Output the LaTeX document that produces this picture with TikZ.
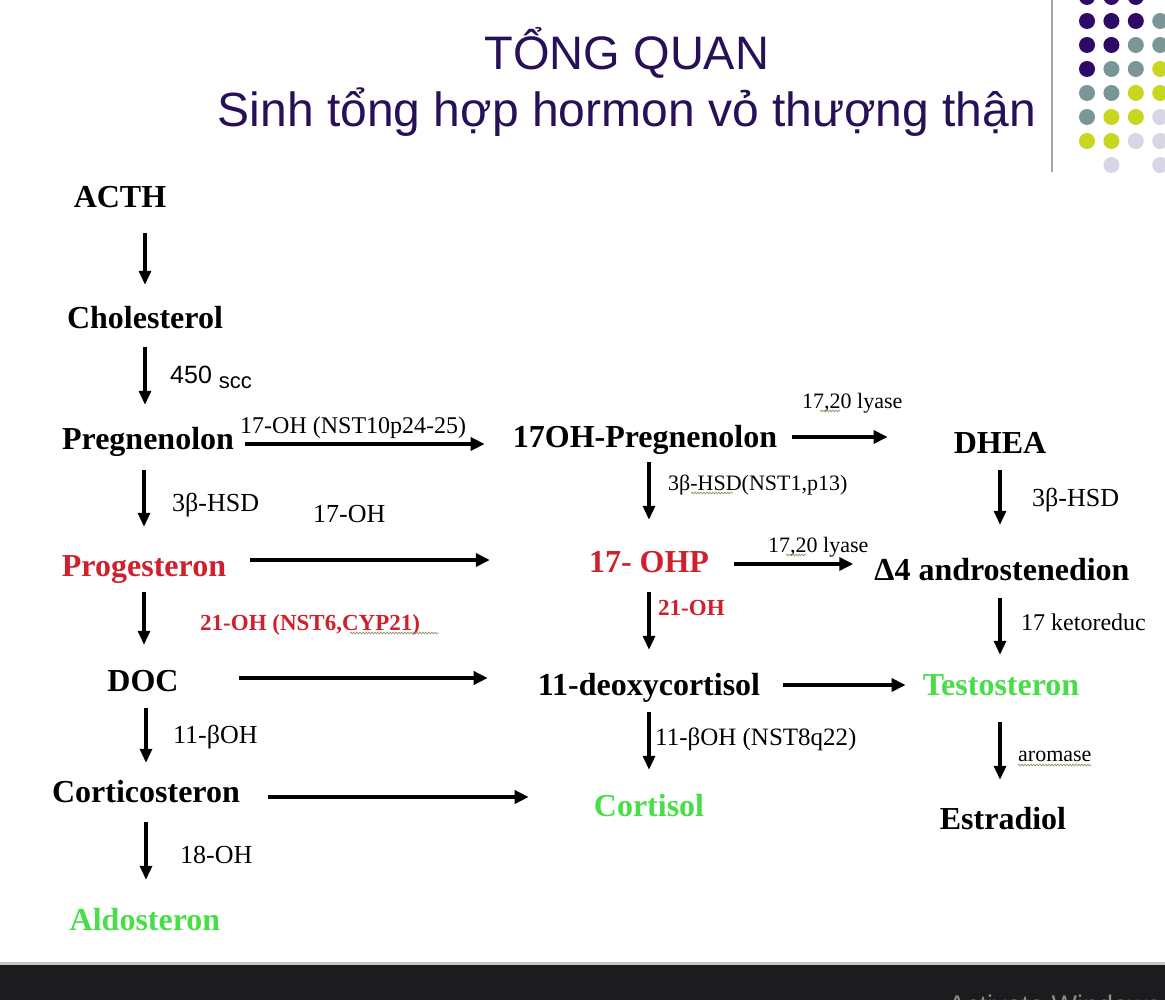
\documentclass[tikz,border=0pt]{standalone}
\usepackage{fontspec}
\setmainfont{Liberation Serif}
\newfontfamily\sansfont{Liberation Sans}
\usetikzlibrary{arrows.meta,decorations.pathmorphing}

\definecolor{titlepurple}{RGB}{40,16,88}
\definecolor{pathred}{RGB}{208,32,46}
\definecolor{pathgreen}{RGB}{72,222,72}
\definecolor{dotpurple}{RGB}{44,10,102}
\definecolor{dotgray}{RGB}{122,150,150}
\definecolor{dotyellow}{RGB}{200,214,32}
\definecolor{dotlilac}{RGB}{214,214,230}
\definecolor{squiggle}{RGB}{150,150,105}
\definecolor{barblack}{RGB}{28,28,30}

\begin{document}
\begin{tikzpicture}[x=1pt,y=-1pt,
  nd/.style={font=\fontsize{32}{36}\selectfont\bfseries, inner sep=0pt,
             anchor=base, text height=23pt, text depth=7pt},
  red/.style={text=pathred},
  grn/.style={text=pathgreen},
  lbl/.style={font=\fontsize{26}{30}\selectfont, inner sep=0pt, anchor=base west},
  lblsm/.style={font=\fontsize{22}{26}\selectfont, inner sep=0pt, anchor=base west},
  lblred/.style={font=\fontsize{23}{27}\selectfont\bfseries, text=pathred, inner sep=0pt, anchor=base west},
  arr/.style={line width=3.2pt, -{Triangle[length=14pt,width=12pt]}},
  harr/.style={arr, line width=3.8pt, -{Triangle[length=14pt,width=13pt]}},
  wavy/.style={squiggle, line width=0.7pt, decorate,
               decoration={snake, segment length=3pt, amplitude=0.9pt}},
  dot/.style={circle, inner sep=0pt, minimum size=16pt},
]
\useasboundingbox (0,0) rectangle (1165,1000);
\fill[white] (0,0) rectangle (1165,1000);

% ---- heading ----
\node[font=\sansfont\fontsize{47}{52}\selectfont, text=titlepurple, anchor=base]
  (title) at (627,70) {TỔNG QUAN};
\node[font=\sansfont\fontsize{48}{54}\selectfont, text=titlepurple, anchor=base]
  (subtitle) at (627,127) {Sinh tổng hợp hormon vỏ thượng thận};

% ---- corner ornament: rule and dot grid (row/column/colour) ----
\draw[gray!70, line width=2.4pt] (1052,0) -- (1052,172);
\foreach \r/\c/\col in {
  0/1/dotpurple, 0/2/dotpurple, 0/3/dotpurple,
  1/1/dotpurple, 1/2/dotpurple, 1/3/dotpurple, 1/4/dotgray,
  2/1/dotpurple, 2/2/dotpurple, 2/3/dotgray,   2/4/dotgray,
  3/1/dotpurple, 3/2/dotgray,   3/3/dotgray,   3/4/dotyellow,
  4/1/dotgray,   4/2/dotgray,   4/3/dotyellow, 4/4/dotyellow,
  5/1/dotgray,   5/2/dotyellow, 5/3/dotyellow, 5/4/dotlilac,
  6/1/dotyellow, 6/2/dotyellow, 6/3/dotlilac,  6/4/dotlilac,
  7/2/dotlilac,  7/4/dotlilac}{
  \node[dot, fill=\col] (dot-\r-\c) at ({1087+24.4*(\c-1)},{-3+24*\r}) {};
}

% ---- compounds ----
\node[nd] (acth)     at (120,208)  {ACTH};
\node[nd] (chol)     at (145,329)  {Cholesterol};
\node[nd] (preg)     at (148,449)  {Pregnenolon};
\node[nd] (ohpreg)   at (645,447)  {17OH-Pregnenolon};
\node[nd] (dhea)     at (1000,453) {DHEA};
\node[nd, red] (prog) at (144,576) {Progesteron};
\node[nd, red] (ohp)  at (649,572) {17- OHP};
\node[nd] (andro)    at (1002,580) {Δ4 androstenedion};
\node[nd] (doc)      at (143,691)  {DOC};
\node[nd] (deoxy)    at (649,695)  {11-deoxycortisol};
\node[nd, grn] (testo) at (1001,695) {Testosteron};
\node[nd] (cortico)  at (146,802)  {Corticosteron};
\node[nd, grn] (cortisol) at (649,816) {Cortisol};
\node[nd] (estra)    at (1003,829) {Estradiol};
\node[nd, grn] (aldo) at (145,930) {Aldosteron};

% ---- enzymes ----
\node[font=\sansfont\fontsize{25}{30}\selectfont, inner sep=0pt, anchor=base west]
  (scc) at (170,384) {450 \raisebox{-5pt}{\fontsize{22}{26}\selectfont scc}};
\node[font=\fontsize{24}{28}\selectfont, inner sep=0pt, anchor=base west]
  (e17oh) at (240,433) {17-OH (NST10p24-25)};
\node[lblsm] (lyase1) at (802,408) {17,20 lyase};
\node[lbl]   (hsd1)   at (172,511) {3β-HSD};
\node[lbl]   (oh17)   at (313,522) {17-OH};
\node[lblsm] (hsd2)   at (668,490) {3β-HSD(NST1,p13)};
\node[lbl]   (hsd3)   at (1032,506) {3β-HSD};
\node[lblsm] (lyase2) at (768,552) {17,20 lyase};
\node[lblred] (oh21a) at (200,630) {21-OH (NST6,CYP21)};
\node[lblred] (oh21b) at (658,615) {21-OH};
\node[font=\fontsize{24}{28}\selectfont, inner sep=0pt, anchor=base west]
  (keto) at (1021,630) {17 ketoreduc};
\node[lbl]   (ob11a)  at (173,743) {11-βOH};
\node[font=\fontsize{25}{29}\selectfont, inner sep=0pt, anchor=base west]
  (ob11b) at (655,745) {11-βOH (NST8q22)};
\node[lblsm] (arom)   at (1018,761) {aromase};
\node[lbl]   (oh18)   at (180,863) {18-OH};

% spelling marks under some words
\draw[wavy] ([xshift=18pt,yshift=-3pt]lyase1.base west) -- ++(20,0);
\draw[wavy] ([xshift=18pt,yshift=-3pt]lyase2.base west) -- ++(20,0);
\draw[wavy] ([xshift=23pt,yshift=-3pt]hsd2.base west) -- ++(42,0);
\draw[wavy] ([xshift=150pt,yshift=-3pt]oh21a.base west) -- ++(88,0);
\draw[wavy] ([yshift=-4pt]arom.base west) -- (arom.base east |- 0,765);

% ---- vertical steps ----
\draw[arr, shorten <=18pt, shorten >=21pt] (acth.south -| chol.north) -- (chol.north);
\draw[arr, shorten <=11pt, shorten >=21pt] (chol.south) -- (chol.south |- preg.north);
\draw[arr, shorten <=14pt, shorten >=26pt] (preg.south -| prog.north) -- (prog.north);
\draw[arr, shorten <=9pt,  shorten >=23pt] (prog.south) -- (prog.south |- doc.north);
\draw[arr, shorten <=10pt, shorten >=16pt] (doc.south -| cortico.north) -- (cortico.north);
\draw[arr, shorten <=13pt, shorten >=27pt] (cortico.south) -- (cortico.south |- aldo.north);

\draw[arr, shorten <=8pt,  shorten >=29pt] (ohpreg.south -| ohp.north) -- (ohp.north);
\draw[arr, shorten <=13pt, shorten >=22pt] (ohp.south) -- (ohp.south |- deoxy.north);
\draw[arr, shorten <=10pt, shorten >=23pt] (deoxy.south) -- (deoxy.south |- cortisol.north);

\draw[arr, shorten <=10pt, shorten >=32pt] (dhea.south) -- (dhea.south |- andro.north);
\draw[arr, shorten <=11pt, shorten >=17pt] (andro.south -| dhea.south) -- (dhea.south |- testo.north);
\draw[arr, shorten <=20pt, shorten >=26pt] (testo.south -| dhea.south) -- (dhea.south |- estra.north);

% ---- horizontal steps ----
\draw[harr, shorten <=11pt, shorten >=28pt]
  ([yshift=5pt]preg.base east) -- ([yshift=5pt]preg.base east -| ohpreg.west);
\draw[harr, shorten <=15pt, shorten >=66pt]
  ([yshift=10pt]ohpreg.base east) -- ([yshift=10pt]ohpreg.base east -| dhea.west);
\draw[harr, shorten <=24pt, shorten >=99pt]
  ([yshift=16pt]prog.base east) -- ([yshift=16pt]prog.base east -| ohp.west);
\draw[harr, shorten <=25pt, shorten >=21pt]
  ([yshift=8pt]ohp.base east) -- ([yshift=8pt]ohp.base east -| andro.west);
\draw[harr, shorten <=60pt, shorten >=50pt]
  ([yshift=13pt]doc.base east) -- ([yshift=13pt]doc.base east -| deoxy.west);
\draw[harr, shorten <=23pt, shorten >=17pt]
  ([yshift=10pt]deoxy.base east) -- ([yshift=10pt]deoxy.base east -| testo.west);
\draw[harr, shorten <=28pt, shorten >=65pt]
  ([yshift=5pt]cortico.base east) -- ([yshift=5pt]cortico.base east -| cortisol.west);

% ---- screen strip at the foot ----
\fill[gray!45] (0,962) rectangle (1165,965);
\fill[barblack] (0,965) rectangle (1165,1000);
\begin{scope}
  \clip (0,965) rectangle (1165,1000);
  \node[font=\sansfont\fontsize{27}{30}\selectfont, text=gray!90, inner sep=0pt, anchor=base west]
    (wm) at (948,1014) {Activate Windows};
\end{scope}
\end{tikzpicture}
\end{document}
